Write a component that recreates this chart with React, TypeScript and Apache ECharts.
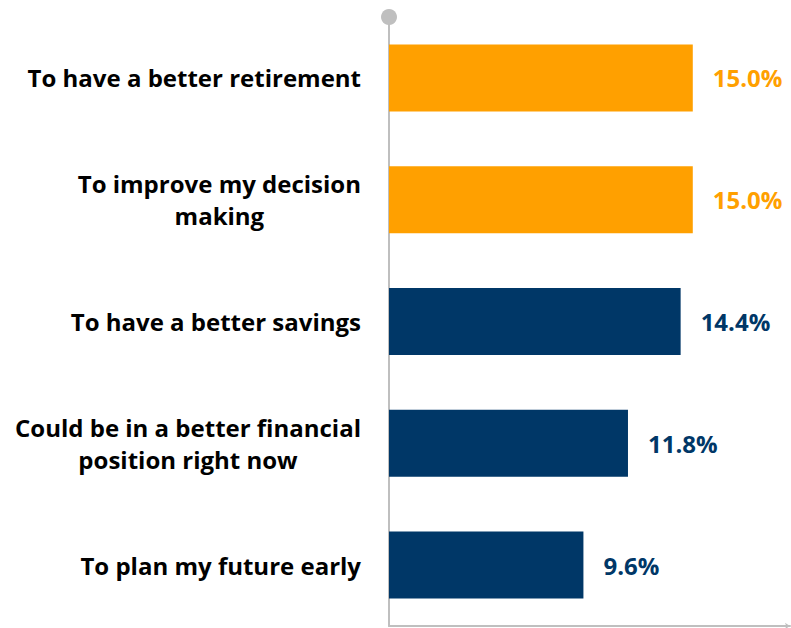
import React, { useEffect, useRef } from "react";
import * as echarts from "echarts";

const categories = [
  "To have a better retirement",
  "To improve my decision\nmaking",
  "To have a better savings",
  "Could be in a better financial\nposition right now",
  "To plan my future early",
];
const values = [15.0, 15.0, 14.4, 11.8, 9.6];
const barColors = ["#FFA000", "#FFA000", "#003767", "#003767", "#003767"];

const FONT = "Open Sans";

export default function App() {
  const ref = useRef<HTMLDivElement>(null);
  useEffect(() => {
    const chart = echarts.init(ref.current!, null, { renderer: "svg" });
    chart.setOption({
      animation: false,
      grid: { left: 389, right: 1, top: 17, bottom: 2, containLabel: false },
      xAxis: {
        type: "value",
        min: 0,
        max: 19.8,
        splitLine: { show: false },
        axisLabel: { show: false },
        axisTick: { show: false },
        axisLine: {
          show: true,
          lineStyle: { color: "#BFBFBF", width: 2 },
          symbol: ["none", "arrow"],
          symbolSize: [5, 5],
        },
      },
      yAxis: {
        type: "category",
        inverse: true,
        data: categories,
        axisTick: { show: false },
        axisLine: {
          show: true,
          lineStyle: { color: "#BFBFBF", width: 2 },
          symbol: ["none", "circle"],
          symbolSize: [16, 16],
        },
        axisLabel: {
          margin: 28,
          align: "right",
          formatter: (v: string) =>
            v
              .split("\n")
              .map((l) => `{c|${l}}`)
              .join("\n"),
          rich: {
            c: {
              color: "#000",
              fontSize: 24,
              fontWeight: "bold",
              fontFamily: FONT,
              lineHeight: 32,
              align: "center",
            },
          },
        },
      },
      series: [
        {
          type: "bar",
          data: values.map((v, i) => ({
            value: v,
            itemStyle: { color: barColors[i] },
            label: { color: barColors[i] },
          })),
          barWidth: 67,
          label: {
            show: true,
            position: "right",
            distance: 20,
            fontSize: 24,
            fontWeight: "bold",
            fontFamily: FONT,
            formatter: (p: any) => p.value.toFixed(1) + "%",
          },
        },
      ],
    });
    return () => chart.dispose();
  }, []);
  return (
    <div
      ref={ref}
      style={{ position: "absolute", left: 0, top: 0, width: 791, height: 628 }}
    />
  );
}
